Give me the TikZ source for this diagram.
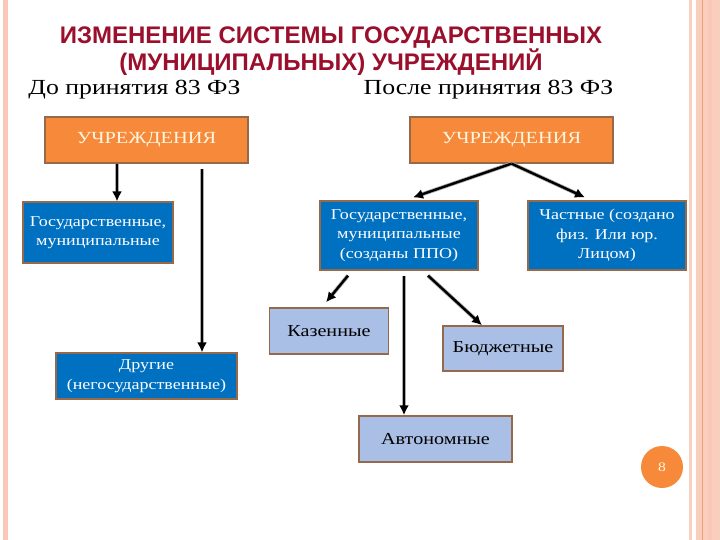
\documentclass[tikz,border=0pt]{standalone}
\usepackage{fontspec}
\setmainfont{Liberation Serif}[FakeStretch=1.2]
\newfontfamily\headfont{Liberation Sans}
\usetikzlibrary{arrows.meta}

\definecolor{headred}{RGB}{155,15,45}
\definecolor{orgfill}{RGB}{246,138,58}
\definecolor{boxline}{RGB}{150,105,75}
\definecolor{darkblue}{RGB}{0,112,192}
\definecolor{lightblue}{RGB}{170,191,230}
\definecolor{cream}{RGB}{255,246,225}
\definecolor{peach}{RGB}{250,200,182}
\definecolor{peachline}{RGB}{236,160,125}

\begin{document}
\begin{tikzpicture}[x=1pt, y=-1pt,
  orgbox/.style={draw=boxline, line width=1.2pt, fill=orgfill, text=cream,
    minimum width=203pt, minimum height=46pt, inner sep=0pt, font=\fontsize{17}{20}\selectfont},
  darkbox/.style={draw=boxline, line width=1.2pt, fill=darkblue, text=white, align=center,
    inner sep=0pt, font=\fontsize{15}{19.5}\selectfont},
  lightbox/.style={draw=boxline, line width=1.5pt, fill=lightblue, text=black,
    inner sep=0pt, font=\fontsize{16.8}{19}\selectfont},
  arr/.style={-{Latex[length=10pt,width=10pt]}, line width=2.4pt,
    preaction={draw=gray!65, line width=4pt, -, shorten >=9pt}}]

% slide frame
\useasboundingbox (0,0) rectangle (720,540);
\fill[white] (0,0) rectangle (720,540);
\fill[peach] (3,0) rectangle (8,540);
\fill[peach!85] (689,0) rectangle (692,540);
\fill[peach!90] (696,0) rectangle (720,540);
\fill[peach] (708,0) rectangle (712,540);
\draw[peachline, line width=0.8pt] (702,0) -- (702,540);

% headings
\node[text=headred, align=center, font=\headfont\bfseries\fontsize{24}{27}\selectfont] (head) at (331,51)
  {ИЗМЕНЕНИЕ СИСТЕМЫ ГОСУДАРСТВЕННЫХ\\(МУНИЦИПАЛЬНЫХ) УЧРЕЖДЕНИЙ};
\node[font=\fontsize{21.5}{26}\selectfont, inner sep=0pt] (before) at (134.5,90) {До принятия 83 ФЗ};
\node[font=\fontsize{21.5}{26}\selectfont, inner sep=0pt] (after) at (488.5,90) {После принятия 83 ФЗ};

% before
\node[orgbox] (orgL) at (146.5,140) {УЧРЕЖДЕНИЯ};
\node[darkbox, minimum width=150pt, minimum height=61pt] (govL) at (98,232.5)
  {Государственные,\\муниципальные};
\node[darkbox, minimum width=181pt, minimum height=46pt] (other) at (146.5,376)
  {Другие\\(негосударственные)};

\draw[arr] ([xshift=-29.5pt]orgL.south) -- ([xshift=-29.5pt]orgL.south |- govL.north);
\draw[arr] ([xshift=55.5pt,yshift=-5pt]orgL.south) -- ([xshift=55.5pt]orgL.south |- other.north);

% after
\node[orgbox] (orgR) at (511.5,140) {УЧРЕЖДЕНИЯ};
\node[darkbox, minimum width=158pt, minimum height=69pt] (govR) at (399,235.5)
  {Государственные,\\муниципальные\\(созданы ППО)};
\node[darkbox, minimum width=158pt, minimum height=69pt] (priv) at (607,235.5)
  {Частные (создано\\физ. Или юр.\\Лицом)};

\draw[arr] (orgR.south) -- ([xshift=14pt,yshift=3pt]govR.north);
\draw[arr] (orgR.south) -- ([xshift=-22pt,yshift=3pt]priv.north);

\node[lightbox, minimum width=119pt, minimum height=46pt] (kaz) at (329,331) {Казенные};
\node[lightbox, minimum width=120pt, minimum height=45pt] (bud) at (503,348.5) {Бюджетные};
\node[lightbox, minimum width=153pt, minimum height=46pt] (avt) at (435.5,439) {Автономные};

\draw[arr] ([xshift=-51pt,yshift=-5pt]govR.south) -- ([xshift=-3pt,yshift=5pt]kaz.north);
\draw[arr] ([xshift=5pt,yshift=-5pt]govR.south) -- ([xshift=5pt]govR.south |- avt.north);
\draw[arr] ([xshift=29pt,yshift=-5pt]govR.south) -- ([xshift=-21pt]bud.north);

% slide number
\node[circle, fill=orgfill, minimum size=42pt, inner sep=0pt, text=cream,
  font=\fontsize{13}{15}\selectfont] (num) at (662,467) {8};

\end{tikzpicture}
\end{document}
